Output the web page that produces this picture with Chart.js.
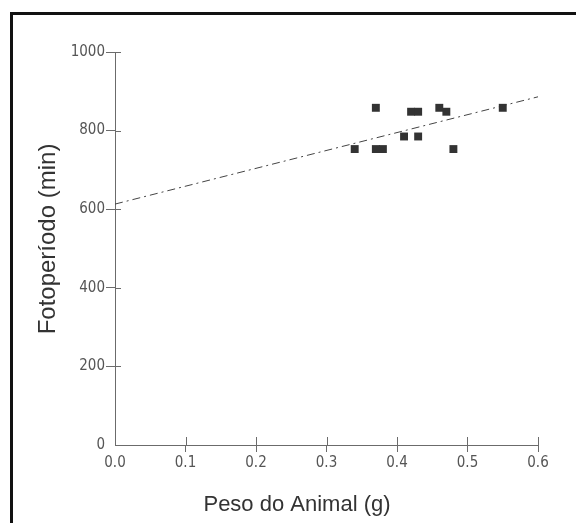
<!DOCTYPE html>
<html>
<head>
<meta charset="utf-8">
<script src="https://cdn.jsdelivr.net/npm/chart.js@4/dist/chart.umd.min.js"></script>
<style>
  html, body { margin: 0; padding: 0; background: #fff; }
  #wrap { position: relative; width: 576px; height: 523px; overflow: hidden; }
  #frame {
    position: absolute; left: 10px; top: 12px; width: 600px; height: 600px;
    border-left: 3px solid #111; border-top: 3px solid #111;
  }
  canvas { position: absolute; left: 0; top: 0; }
</style>
</head>
<body>
<div id="wrap">
  <div id="frame"></div>
  <canvas id="chart" width="576" height="523"></canvas>
</div>
<script>
// data
const pesoAnimal = [0.34, 0.37, 0.38, 0.37, 0.41, 0.42, 0.43, 0.43, 0.46, 0.47, 0.48, 0.55];
const fotoperiodo = [753, 753, 753, 858, 785, 848, 848, 785, 858, 848, 753, 858];

// regression line end points
const fitX = [0, 0.6];
const fitY = [613, 886];

const xTitle = 'Peso do Animal (g)';
const yTitle = 'Fotoperíodo (min)';

const tickFont = { family: "'Liberation Sans Narrow', 'DejaVu Sans Condensed', sans-serif", size: 15 };
const axisGray = '#6b6b6b';
const labelGray = '#555';

// ticks in this chart cross the axis, draw the inner half here
const innerTicks = {
  id: 'innerTicks',
  afterDraw(chart) {
    const ctx = chart.ctx;
    const xs = chart.scales.x, ys = chart.scales.y;
    ctx.save();
    ctx.strokeStyle = axisGray;
    ctx.lineWidth = 1;
    ctx.beginPath();
    xs.ticks.forEach((t, i) => {
      if (t.value === 0) return;
      const px = Math.round(xs.getPixelForTick(i)) + 0.5;
      ctx.moveTo(px, ys.bottom);
      ctx.lineTo(px, ys.bottom - 8);
    });
    ys.ticks.forEach((t, i) => {
      if (t.value === 0) return;
      const py = Math.round(ys.getPixelForTick(i)) + 0.5;
      ctx.moveTo(xs.left, py);
      ctx.lineTo(xs.left + 6, py);
    });
    ctx.stroke();

    // axis titles
    ctx.fillStyle = '#333';
    ctx.textAlign = 'center';
    ctx.textBaseline = 'alphabetic';
    ctx.font = "22px 'Liberation Sans', Arial, sans-serif";
    ctx.fillText(xTitle, 297, 511);
    ctx.translate(55, 239);
    ctx.rotate(-Math.PI / 2);
    ctx.font = "24px 'Liberation Sans', Arial, sans-serif";
    ctx.fillText(yTitle, 0, 0);
    ctx.restore();
  }
};

const noZero = ctx => (ctx.tick && ctx.tick.value === 0) ? 'rgba(0,0,0,0)' : axisGray;

new Chart(document.getElementById('chart'), {
  type: 'scatter',
  data: {
    datasets: [
      {
        label: 'dados',
        data: pesoAnimal.map((x, i) => ({ x: x, y: fotoperiodo[i] })),
        pointStyle: 'rect',
        pointRadius: 5.6,
        pointHoverRadius: 5.6,
        backgroundColor: '#333',
        borderWidth: 0,
      },
      {
        type: 'line',
        label: 'ajuste',
        data: fitX.map((x, i) => ({ x: x, y: fitY[i] })),
        borderColor: '#444',
        borderWidth: 1,
        borderDash: [8, 4, 2, 4],
        pointRadius: 0,
        fill: false,
      },
    ],
  },
  options: {
    responsive: false,
    animation: false,
    layout: { padding: { top: 52, right: 38, bottom: 0, left: 0 } },
    plugins: {
      legend: { display: false },
      tooltip: { enabled: false },
    },
    scales: {
      x: {
        type: 'linear',
        min: 0,
        max: 0.6,
        afterFit: s => { s.height = 78; },
        border: { color: axisGray, width: 1 },
        grid: { drawOnChartArea: false, tickLength: 7, color: noZero },
        ticks: {
          stepSize: 0.1,
          padding: 2,
          color: labelGray,
          font: tickFont,
          maxRotation: 0,
          callback: v => v.toFixed(1),
        },
      },
      y: {
        min: 0,
        max: 1000,
        afterFit: s => { s.width = 115; },
        border: { color: axisGray, width: 1 },
        grid: { drawOnChartArea: false, tickLength: 9, color: noZero },
        ticks: {
          stepSize: 200,
          padding: 1,
          color: labelGray,
          font: tickFont,
          callback: v => String(v),
        },
      },
    },
  },
  plugins: [innerTicks],
});
</script>
</body>
</html>
